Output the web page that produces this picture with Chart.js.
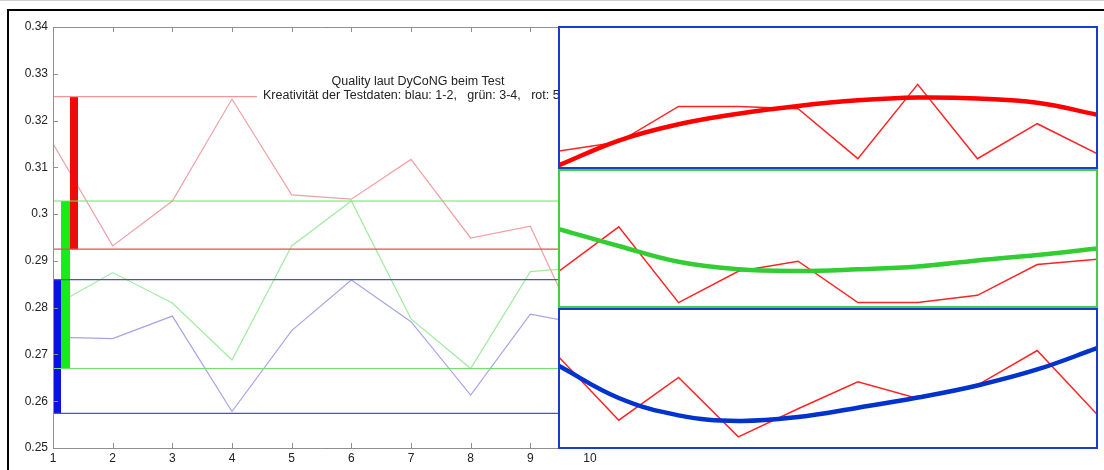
<!DOCTYPE html>
<html>
<head>
<meta charset="utf-8">
<script src="https://cdn.jsdelivr.net/npm/chart.js@4"></script>
<style>
	html, body { margin: 0; padding: 0; background: #fff; }
	body { width: 1104px; height: 470px; position: relative; overflow: hidden; }
	.frame { position: absolute; left: 7px; top: 9px; width: 1200px; height: 600px; border-left: 2px solid #000; border-top: 2px solid #000; }
	.topline { position: absolute; left: 0; top: 0; width: 1104px; height: 1px; background: #d0d0d0; }
	#main { position: absolute; left: 0; top: 0; width: 600px; height: 470px; }
	.panel { position: absolute; left: 558px; width: 540px; background: #fff; }
	.edge { position: absolute; left: 0; top: 0; right: 0; bottom: 0; box-sizing: border-box; pointer-events: none; }
</style>
</head>
<body>
<div class="topline"></div>
<div class="frame"></div>
<div id="main"><canvas id="mainChart"></canvas></div>
<div class="panel" style="top:26px;height:143px"><canvas id="topPanel"></canvas><div class="edge" style="border:2px solid rgb(25,60,205)"></div></div>
<div class="panel" style="top:169px;height:139px"><canvas id="midPanel"></canvas><div class="edge" style="border:2px solid rgb(70,205,70)"></div></div>
<div class="panel" style="top:308px;height:141px"><canvas id="lowPanel"></canvas><div class="edge" style="border:2px solid rgb(25,60,205)"></div></div>
<script>
// main plot: quality per test run
const testRuns = [1, 2, 3, 4, 5, 6, 7, 8, 9, 10];
const redQuality = [0.3151, 0.2932, 0.3028, 0.3246, 0.3041, 0.3032, 0.3117, 0.2949, 0.2974, 0.2700];
const greenQuality = [0.2803, 0.2875, 0.2810, 0.2688, 0.2932, 0.3028, 0.2776, 0.2670, 0.2877, 0.2887];
const blueQuality = [0.2737, 0.2734, 0.2782, 0.2578, 0.2751, 0.2859, 0.2770, 0.2613, 0.2786, 0.2762];

// min / max band of each colour
const redRange = [0.2925, 0.3251];
const greenRange = [0.2670, 0.3028];
const blueRange = [0.2574, 0.2860];
const rangeBarX = { blue: 1.067, green: 1.21, red: 1.352 };

const yTicks = [0.25, 0.26, 0.27, 0.28, 0.29, 0.30, 0.31, 0.32, 0.33, 0.34];
const yTickLabels = ["0.25", "0.26", "0.27", "0.28", "0.29", "0.3", "0.31", "0.32", "0.33", "0.34"];
const xTickLabels = ["1", "2", "3", "4", "5", "6", "7", "8", "9", "10"];

const titleLines = ["Quality laut DyCoNG beim Test", "Kreativität der Testdaten: blau: 1-2,   grün: 3-4,   rot: 5"];

// inset panels (relative height 0..100 inside each box)
const panelX = [1, 2, 3, 4, 5, 6, 7, 8, 9, 10];
const topZigzag = [12.1, 18.4, 43.7, 43.7, 42.1, 6.6, 59.3, 6.6, 31.4, 10.2];
const topFit = [2, 19.5, 31, 38.5, 44, 48, 50, 49.3, 46.3, 37.8];
const midZigzag = [26.1, 58.5, 3.2, 26.1, 33.4, 3.2, 3.2, 8.5, 31.0, 34.9];
const midFit = [56.8, 44.5, 33, 27.5, 26.3, 27.5, 29.5, 34, 38, 42.7];
const lowZigzag = [65.3, 20, 50.8, 8, 28.2, 47.7, 35.7, 45.3, 70.1, 24.3];
const lowFit = [59, 36, 23.5, 19.5, 22.3, 29, 36.3, 45, 56.5, 71.8];

const font = "Liberation Sans";

function pts(xs, ys) {
	return xs.map((x, i) => ({ x: x, y: ys[i] }));
}

function hline(v, color) {
	return {
		data: [{ x: 1, y: v }, { x: 10, y: v }],
		borderColor: color,
		borderWidth: 1.2,
		pointRadius: 0
	};
}

function vbar(x, range, color, width) {
	return {
		data: [{ x: x, y: range[0] }, { x: x, y: range[1] }],
		borderColor: color,
		borderWidth: width,
		borderCapStyle: "butt",
		pointRadius: 0
	};
}

function zigzag(ys, color) {
	return {
		data: pts(testRuns, ys),
		borderColor: color,
		borderWidth: 1.2,
		pointRadius: 0
	};
}

const matlabAxes = {
	id: "matlabAxes",
	afterDraw(chart) {
		const { ctx, chartArea: a, scales } = chart;
		ctx.save();
		ctx.strokeStyle = "#8f8f8f";
		ctx.lineWidth = 1;
		ctx.beginPath();
		ctx.moveTo(a.left + 0.5, a.top + 0.5);
		ctx.lineTo(a.left + 0.5, a.bottom + 0.5);
		ctx.lineTo(a.right, a.bottom + 0.5);
		ctx.moveTo(a.left, a.top + 0.5);
		ctx.lineTo(a.right, a.top + 0.5);
		yTicks.forEach((v) => {
			const py = Math.round(scales.y.getPixelForValue(v)) + 0.5;
			ctx.moveTo(a.left, py);
			ctx.lineTo(a.left + 5, py);
		});
		testRuns.forEach((v) => {
			const px = Math.round(scales.x.getPixelForValue(v)) + 0.5;
			ctx.moveTo(px, a.bottom);
			ctx.lineTo(px, a.bottom - 5);
			ctx.moveTo(px, a.top);
			ctx.lineTo(px, a.top + 5);
		});
		ctx.stroke();

		// title on white background
		ctx.fillStyle = "#fff";
		ctx.fillRect(257, 72, 330, 32);
		ctx.fillStyle = "#222";
		ctx.font = "12.5px '" + font + "'";
		ctx.textBaseline = "middle";
		ctx.textAlign = "center";
		ctx.fillText(titleLines[0], 418, 82);
		ctx.textAlign = "left";
		ctx.fillText(titleLines[1], 263, 96);
		ctx.restore();
	}
};

const hiddenGrid = { display: true, drawOnChartArea: false, drawTicks: false, color: "rgba(0,0,0,0)" };

new Chart(document.getElementById("mainChart"), {
	type: "line",
	data: {
		datasets: [
			hline(redRange[1], "rgb(245,150,150)"),
			hline(redRange[0], "rgb(225,80,80)"),
			hline(greenRange[1], "rgb(110,225,110)"),
			hline(greenRange[0], "rgb(110,225,110)"),
			hline(blueRange[1], "rgb(80,80,195)"),
			hline(blueRange[0], "rgb(80,80,195)"),
			vbar(rangeBarX.blue, blueRange, "rgb(10,20,225)", 8),
			vbar(rangeBarX.green, greenRange, "rgb(25,235,25)", 9),
			vbar(rangeBarX.red, redRange, "rgb(240,10,10)", 8),
			zigzag(redQuality, "rgb(240,160,165)"),
			zigzag(greenQuality, "rgb(160,235,160)"),
			zigzag(blueQuality, "rgb(165,165,232)")
		]
	},
	options: {
		responsive: true,
		maintainAspectRatio: false,
		animation: false,
		layout: { padding: { top: 27, right: 10, left: 0, bottom: 0 } },
		plugins: { legend: { display: false }, tooltip: { enabled: false } },
		scales: {
			x: {
				type: "linear",
				min: 1,
				max: 10,
				grid: hiddenGrid,
				border: { display: false },
				afterBuildTicks: (s) => { s.ticks = testRuns.map((v) => ({ value: v })); },
				afterFit: (s) => { s.height = 22; },
				ticks: {
					autoSkip: false,
					maxRotation: 0,
					padding: 3,
					color: "#222",
					font: { family: font, size: 12 },
					callback: (v) => xTickLabels[testRuns.indexOf(v)]
				}
			},
			y: {
				type: "linear",
				min: 0.25,
				max: 0.34,
				grid: hiddenGrid,
				border: { display: false },
				afterBuildTicks: (s) => { s.ticks = yTicks.map((v) => ({ value: v })); },
				afterFit: (s) => { s.width = 53; },
				ticks: {
					autoSkip: false,
					padding: 5,
					color: "#222",
					font: { family: font, size: 12 },
					callback: (v) => yTickLabels[yTicks.findIndex((t) => Math.abs(t - v) < 1e-6)]
				}
			}
		}
	},
	plugins: [matlabAxes]
});

function panel(id, zig, fit, fitColor) {
	new Chart(document.getElementById(id), {
		type: "line",
		data: {
			datasets: [
				{
					data: pts(panelX, fit),
					borderColor: fitColor,
					borderWidth: 4.5,
					tension: 0.4,
					pointRadius: 0
				},
				{
					data: pts(panelX, zig),
					borderColor: "rgb(255,35,35)",
					borderWidth: 1.5,
					pointRadius: 0
				}
			]
		},
		options: {
			responsive: true,
			maintainAspectRatio: false,
			animation: false,
			layout: { padding: 1 },
			plugins: { legend: { display: false }, tooltip: { enabled: false } },
			scales: {
				x: { type: "linear", min: 1, max: 10, display: false },
				y: { type: "linear", min: 0, max: 100, display: false }
			}
		}
	});
}

panel("topPanel", topZigzag, topFit, "rgb(255,0,0)");
panel("midPanel", midZigzag, midFit, "rgb(50,205,50)");
panel("lowPanel", lowZigzag, lowFit, "rgb(0,50,205)");
</script>
</body>
</html>
